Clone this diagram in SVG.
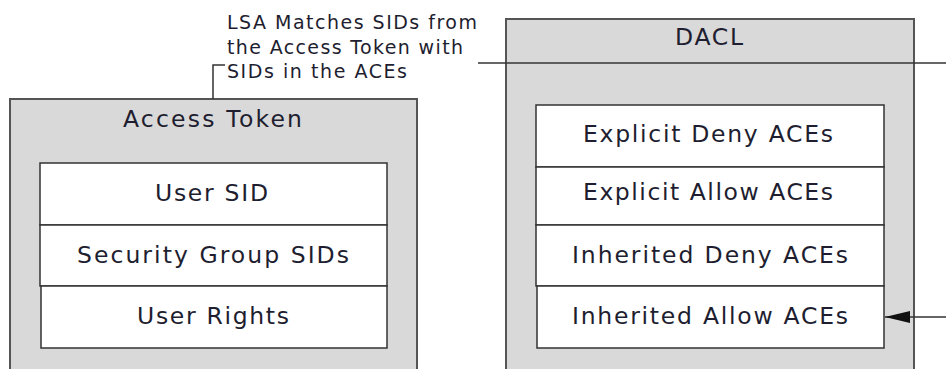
<svg xmlns="http://www.w3.org/2000/svg" width="946" height="369" viewBox="0 0 946 369">
  <style>
    .outer { fill: #d9d9d9; stroke: #555555; stroke-width: 2; }
    .row { fill: #ffffff; stroke: #333333; stroke-width: 1.5; }
    .t { font-family: "DejaVu Sans", Verdana, sans-serif; font-size: 23.5px; fill: #1e1e30; text-anchor: start; }
    .lbl { font-family: "DejaVu Sans", Verdana, sans-serif; font-size: 19px; fill: #1e1e30; }
    .conn { fill: none; stroke: #333333; stroke-width: 1.5; }
  </style>
  <defs>
    <marker id="arrow" viewBox="0 0 25 12" refX="25" refY="6" markerWidth="25" markerHeight="12" markerUnits="userSpaceOnUse" orient="auto">
      <path d="M0,0 L25,6 L0,12 Z" fill="#111111"/>
    </marker>
  </defs>

  <g id="access-token">
    <rect class="outer" x="10" y="99" width="407" height="290"/>
    <text class="t" x="123" y="127" textLength="179" lengthAdjust="spacing">Access Token</text>
    <g id="user-sid">
      <rect class="row" x="40" y="163" width="347" height="62"/>
      <text class="t" x="155" y="201" textLength="113" lengthAdjust="spacing">User SID</text>
    </g>
    <g id="security-group-sids">
      <rect class="row" x="40" y="225" width="347" height="61"/>
      <text class="t" x="77" y="263" textLength="272" lengthAdjust="spacing">Security Group SIDs</text>
    </g>
    <g id="user-rights">
      <rect class="row" x="41" y="286" width="346" height="62"/>
      <text class="t" x="137" y="324" textLength="152" lengthAdjust="spacing">User Rights</text>
    </g>
  </g>

  <g id="dacl">
    <rect class="outer" x="506" y="19" width="408" height="370"/>
    <text class="t" x="675" y="45" textLength="68" lengthAdjust="spacing">DACL</text>
    <g id="explicit-deny">
      <rect class="row" x="536" y="105" width="348" height="62"/>
      <text class="t" x="583" y="142" textLength="250" lengthAdjust="spacing">Explicit Deny ACEs</text>
    </g>
    <g id="explicit-allow">
      <rect class="row" x="536" y="167" width="348" height="58"/>
      <text class="t" x="583" y="200" textLength="250" lengthAdjust="spacing">Explicit Allow ACEs</text>
    </g>
    <g id="inherited-deny">
      <rect class="row" x="536" y="225" width="348" height="61"/>
      <text class="t" x="572" y="263" textLength="276" lengthAdjust="spacing">Inherited Deny ACEs</text>
    </g>
    <g id="inherited-allow">
      <rect class="row" x="537" y="286" width="347" height="62"/>
      <text class="t" x="572" y="324" textLength="276" lengthAdjust="spacing">Inherited Allow ACEs</text>
    </g>
  </g>

  <g id="connectors">
    <path class="conn" d="M213,99 V65 H225"/>
    <path class="conn" d="M478,63 H946"/>
    <path class="conn" d="M946,317 H885" marker-end="url(#arrow)"/>
  </g>

  <g id="label">
    <text class="lbl" x="227" y="29" textLength="250" lengthAdjust="spacing">LSA Matches SIDs from</text>
    <text class="lbl" x="227" y="54" textLength="236" lengthAdjust="spacing">the Access Token with</text>
    <text class="lbl" x="227" y="78" textLength="180" lengthAdjust="spacing">SIDs in the ACEs</text>
  </g>
</svg>
